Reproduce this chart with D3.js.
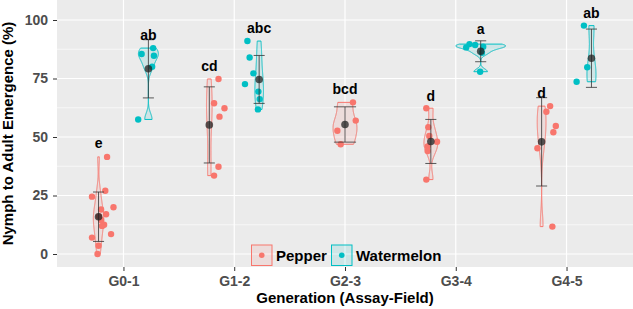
<!DOCTYPE html>
<html>
<head>
<meta charset="utf-8">
<script src="https://cdn.jsdelivr.net/npm/d3@7"></script>
<style>
  body { margin: 0; background: #fff; }
  text { font-family: "Liberation Sans", Arial, sans-serif; font-weight: bold; }
</style>
</head>
<body>
<div id="chart"></div>
<script>
// categories and hosts
const categories = ["G0-1", "G1-2", "G2-3", "G3-4", "G4-5"];
const hosts = ["Pepper", "Watermelon"];
const hostColors = ["#F8766D", "#00BFC4"];
const yTicks = [0, 25, 50, 75, 100];
const yMinorTicks = [12.5, 37.5, 62.5, 87.5];

// emergence values (%) per generation, null = no data
const pepperValues = [
  [41.5, 27, 24.5, 20, 19, 17, 12.5, 12, 8.5, 7, 3.5, 0, 16, 14.5],
  [74.8, 64.4, 62.3, 58.7, 37.3, 33.5],
  [64.8, 57, 52.7, 46.9],
  [62.3, 54.2, 50.4, 46, 48, 44, 31.8],
  [63.2, 60.8, 54.7, 52, 45.2, 11.7]
];
const watermelonValues = [
  [85.5, 88, 84.7, 80, 57.5],
  [91, 84, 77.2, 72.6, 69.4, 66.2, 61.8],
  null,
  [89.7, 88.3, 89.3, 88.6, 86, 77.9],
  [97.6, 79.8, 73.6]
];

// jitter of the points, in category units
const pepperJitter = [
  [0.077, 0.061, -0.059, 0.135, 0.023, 0.068, 0.05, 0.032, 0.113, -0.059, 0, -0.009, 0.005, 0.023],
  [0.083, 0.043, 0.137, 0.092, 0.083, 0.043],
  [0.072, 0.097, -0.069, -0.039],
  [-0.041, -0.023, -0.014, -0.029, 0.056, -0.029, -0.041],
  [0.077, 0.043, 0.128, 0.106, -0.038, 0.097]
];
const watermelonJitter = [
  [-0.061, 0.043, 0.05, 0.034, -0.092],
  [-0.106, -0.086, -0.052, -0.128, -0.007, 0.005, -0.011],
  null,
  [-0.101, -0.131, -0.05, 0.023, 0.011, -0.005],
  [-0.068, -0.038, -0.134]
];

// significance letters and their height
const pepperLetters = ["e", "cd", "bcd", "d", "d"];
const pepperLetterY = [47.4, 80.5, 70.4, 67.5, 68.9];
const watermelonLetters = ["ab", "abc", null, "a", "ab"];
const watermelonLetterY = [93.6, 96.4, null, 96, 103.1];

// layout
const W = 633, H = 309;
const panel = { left: 57, right: 633, top: 0, bottom: 267 };

const svg = d3.select("#chart").append("svg")
  .attr("width", W).attr("height", H);

const x = d3.scalePoint()
  .domain(categories)
  .range([panel.left, panel.right])
  .padding(0.6);
const step = x.step();

const y = d3.scaleLinear()
  .domain([0, 100])
  .range([254, 20]);

// build groups
const groups = [];
categories.forEach((cat, i) => {
  const present = [];
  if (pepperValues[i]) present.push(0);
  if (watermelonValues[i]) present.push(1);
  present.forEach((h, k) => {
    const n = present.length;
    const offset = n === 1 ? 0 : (k === 0 ? -0.225 : 0.225);
    groups.push({
      cat: cat,
      host: h,
      n: n,
      cx: x(cat) + offset * step,
      values: h === 0 ? pepperValues[i] : watermelonValues[i],
      jitter: h === 0 ? pepperJitter[i] : watermelonJitter[i],
      letter: h === 0 ? pepperLetters[i] : watermelonLetters[i],
      letterY: h === 0 ? pepperLetterY[i] : watermelonLetterY[i]
    });
  });
});

// kernel density like R's density(bw = "nrd0"), trimmed to data range
function nrd0(v) {
  const s = d3.deviation(v);
  const sorted = v.slice().sort(d3.ascending);
  const iqr = d3.quantileSorted(sorted, 0.75) - d3.quantileSorted(sorted, 0.25);
  let lo = Math.min(s, iqr / 1.34);
  if (!lo) lo = s || Math.abs(sorted[0]) || 1;
  return 0.9 * lo * Math.pow(v.length, -0.2);
}
groups.forEach(g => {
  const bw = nrd0(g.values);
  const [mn, mx] = d3.extent(g.values);
  g.dens = d3.range(512).map(j => {
    const v = mn + (mx - mn) * j / 511;
    const d = d3.sum(g.values, xi => Math.exp(-0.5 * ((v - xi) / bw) ** 2)) / (g.values.length * bw * Math.sqrt(2 * Math.PI));
    return { v: v, d: d };
  });
  g.mean = d3.mean(g.values);
  g.sd = d3.deviation(g.values);
});
const maxDens = d3.max(groups, g => d3.max(g.dens, p => p.d));

// panel background and grid
svg.append("rect")
  .attr("x", panel.left).attr("y", panel.top)
  .attr("width", panel.right - panel.left).attr("height", panel.bottom - panel.top)
  .attr("fill", "#EBEBEB");

svg.selectAll(".minor").data(yMinorTicks).enter().append("line")
  .attr("x1", panel.left).attr("x2", panel.right)
  .attr("y1", d => y(d)).attr("y2", d => y(d))
  .attr("stroke", "#fff").attr("stroke-width", 0.6);

svg.selectAll(".major").data(yTicks).enter().append("line")
  .attr("x1", panel.left).attr("x2", panel.right)
  .attr("y1", d => y(d)).attr("y2", d => y(d))
  .attr("stroke", "#fff").attr("stroke-width", 1.2);

svg.selectAll(".vgrid").data(categories).enter().append("line")
  .attr("x1", d => x(d)).attr("x2", d => x(d))
  .attr("y1", panel.top).attr("y2", panel.bottom)
  .attr("stroke", "#fff").attr("stroke-width", 1.2);

// violins
groups.forEach(g => {
  const half = 0.45 / g.n * step;
  const area = d3.area()
    .x0(p => g.cx - half * p.d / maxDens)
    .x1(p => g.cx + half * p.d / maxDens)
    .y(p => y(p.v));
  svg.append("path")
    .datum(g.dens)
    .attr("d", area)
    .attr("fill", hostColors[g.host]).attr("fill-opacity", 0.12)
    .attr("stroke", hostColors[g.host]).attr("stroke-width", 1);
});

// jittered points
groups.forEach(g => {
  svg.selectAll(null).data(g.values).enter().append("circle")
    .attr("cx", (d, i) => g.cx + g.jitter[i] * step)
    .attr("cy", d => y(d))
    .attr("r", 3.2)
    .attr("fill", hostColors[g.host]);
});

// error bars (mean +- sd) and mean
groups.forEach(g => {
  const cap = 0.1 / g.n * step;
  const eb = svg.append("g").attr("stroke", "#333").attr("stroke-opacity", 0.8).attr("stroke-width", 1);
  eb.append("line").attr("x1", g.cx).attr("x2", g.cx)
    .attr("y1", y(g.mean - g.sd)).attr("y2", y(g.mean + g.sd));
  [g.mean - g.sd, g.mean + g.sd].forEach(v => {
    eb.append("line").attr("x1", g.cx - cap).attr("x2", g.cx + cap)
      .attr("y1", y(v)).attr("y2", y(v));
  });
  svg.append("circle")
    .attr("cx", g.cx).attr("cy", y(g.mean))
    .attr("r", 3.8)
    .attr("fill", "#222").attr("fill-opacity", 0.75);
  svg.append("text")
    .attr("x", g.cx).attr("y", y(g.letterY))
    .attr("dy", "0.35em")
    .attr("text-anchor", "middle")
    .attr("font-size", 14)
    .attr("fill", "#000")
    .text(g.letter);
});

// axes
const yAxis = svg.append("g")
  .attr("transform", `translate(${panel.left},0)`)
  .call(d3.axisLeft(y).tickValues(yTicks).tickSize(4).tickPadding(5));
const xAxis = svg.append("g")
  .attr("transform", `translate(0,${panel.bottom})`)
  .call(d3.axisBottom(x).tickSize(4).tickPadding(5));
[yAxis, xAxis].forEach(a => {
  a.select(".domain").remove();
  a.selectAll(".tick line").attr("stroke", "#333");
  a.selectAll(".tick text")
    .attr("font-size", 14)
    .attr("font-family", "'Liberation Sans', Arial, sans-serif")
    .attr("font-weight", "bold")
    .attr("fill", "#4D4D4D");
});

// axis titles
svg.append("text")
  .attr("x", (panel.left + panel.right) / 2).attr("y", 303)
  .attr("text-anchor", "middle").attr("font-size", 15)
  .text("Generation (Assay-Field)");
svg.append("text")
  .attr("transform", `translate(12.5,${(panel.top + panel.bottom) / 2}) rotate(-90)`)
  .attr("text-anchor", "middle").attr("font-size", 15)
  .text("Nymph to Adult Emergence (%)");

// legend inside the panel
const legendX = [251, 331];
hosts.forEach((h, i) => {
  const lg = svg.append("g").attr("transform", `translate(${legendX[i]},244.5)`);
  lg.append("rect")
    .attr("x", 0.5).attr("y", 0.5).attr("width", 20.5).attr("height", 20.5)
    .attr("fill", hostColors[i]).attr("fill-opacity", 0.12)
    .attr("stroke", hostColors[i]).attr("stroke-width", 1);
  lg.append("circle").attr("cx", 10.75).attr("cy", 10.75).attr("r", 2.8)
    .attr("fill", hostColors[i]);
  lg.append("text")
    .attr("x", 25).attr("y", 10.75).attr("dy", "0.35em")
    .attr("font-size", 15)
    .text(h);
});
</script>
</body>
</html>
